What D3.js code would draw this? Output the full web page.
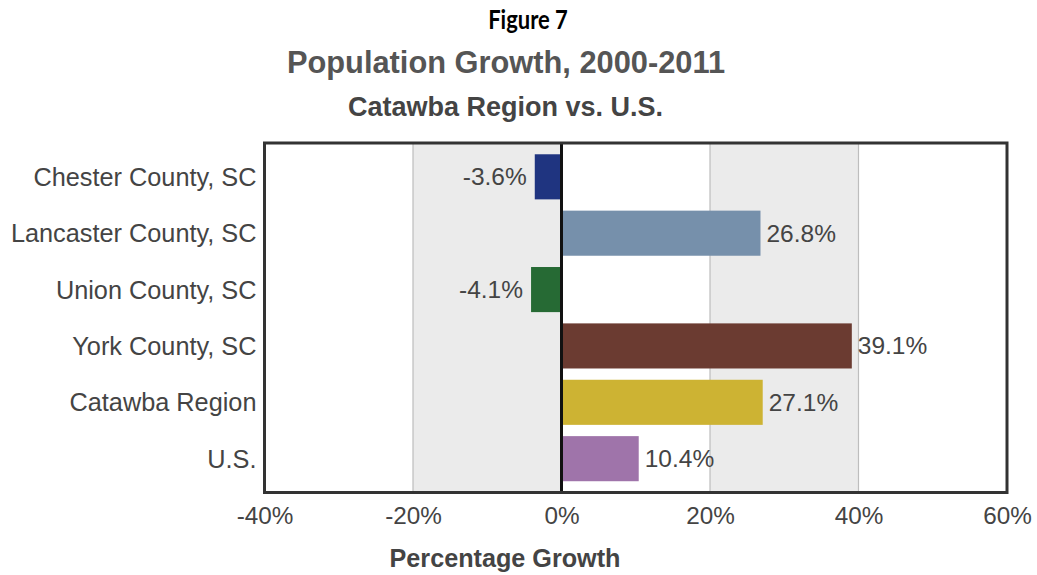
<!DOCTYPE html>
<html><head><meta charset="utf-8">
<script src="https://cdn.jsdelivr.net/npm/d3@7"></script>
<style>body{margin:0;background:#fff;} svg{display:block;}</style>
</head><body>
<svg id="c" width="1037" height="575"></svg>
<script>
const categories = ["Chester County, SC","Lancaster County, SC","Union County, SC","York County, SC","Catawba Region","U.S."];
const values = [-3.6, 26.8, -4.1, 39.1, 27.1, 10.4];
const barColors = ["#1f3480","#7690ab","#266a34","#6b3b31","#cdb333","#9f74aa"];
const tickValues = [-40,-20,0,20,40,60];
const shadedBands = [[-20,0],[20,40]];
const gridValues = [-20,20,40];

const svg = d3.select("#c");
const m = {left:264.5, right:1007, top:143, bottom:492.5};
const x = d3.scaleLinear().domain([-40,60]).range([m.left, m.right]);
const y = d3.scaleBand().domain(categories).range([m.top, m.bottom]).paddingInner(0.2).paddingOuter(0.2);
const font = "'Liberation Sans', Arial, Helvetica, sans-serif";

// plot background
svg.append("rect").attr("x",m.left).attr("y",m.top).attr("width",m.right-m.left).attr("height",m.bottom-m.top).attr("fill","#fff");
svg.selectAll("rect.band").data(shadedBands).join("rect").attr("class","band")
  .attr("x",d=>x(d[0])).attr("width",d=>x(d[1])-x(d[0]))
  .attr("y",m.top).attr("height",m.bottom-m.top).attr("fill","#ebebeb");
svg.selectAll("line.grid").data(gridValues).join("line").attr("class","grid")
  .attr("x1",d=>x(d)).attr("x2",d=>x(d)).attr("y1",m.top).attr("y2",m.bottom)
  .attr("stroke","#bdbdbd").attr("stroke-width",1.2);

// bars
svg.selectAll("rect.bar").data(values).join("rect").attr("class","bar")
  .attr("x",d=>x(Math.min(0,d))).attr("width",d=>Math.abs(x(d)-x(0)))
  .attr("y",(d,i)=>y(categories[i])).attr("height",y.bandwidth())
  .attr("fill",(d,i)=>barColors[i]);

// zero line
svg.append("line").attr("x1",x(0)).attr("x2",x(0)).attr("y1",m.top).attr("y2",m.bottom)
  .attr("stroke","#111").attr("stroke-width",3);

// frame
svg.append("rect").attr("x",m.left).attr("y",m.top).attr("width",m.right-m.left).attr("height",m.bottom-m.top)
  .attr("fill","none").attr("stroke","#333").attr("stroke-width",3);

// value labels
svg.selectAll("text.val").data(values).join("text").attr("class","val")
  .attr("x",d=> d<0 ? x(d)-8 : x(d)+6)
  .attr("y",(d,i)=>y(categories[i])+y.bandwidth()/2+8.5)
  .attr("text-anchor",d=> d<0 ? "end":"start")
  .attr("font-family",font).attr("font-size",24.5).attr("fill","#444")
  .text(d=>d.toFixed(1)+"%");

// y axis labels
const yAxis = d3.axisLeft(y).tickSize(0).tickPadding(8);
const ya = svg.append("g").attr("transform",`translate(${m.left},0)`).call(yAxis);
ya.select(".domain").remove();
ya.selectAll("text").attr("font-family",font).attr("font-size",25.3).attr("fill","#444").attr("dy","0.36em");

// x axis labels
const xAxis = d3.axisBottom(x).tickValues(tickValues).tickSize(0).tickPadding(14).tickFormat(d=>d+"%");
const xa = svg.append("g").attr("transform",`translate(0,${m.bottom})`).call(xAxis);
xa.select(".domain").remove();
xa.selectAll("text").attr("font-family",font).attr("font-size",24.3).attr("fill","#444");

// titles
svg.append("text").attr("transform","translate(528,29) scale(1,1.2)").attr("text-anchor","middle")
  .attr("font-family","Lato, 'Open Sans', sans-serif").attr("font-weight",700).attr("font-size",22).attr("fill","#000").text("Figure 7");
svg.append("text").attr("x",506).attr("y",73).attr("text-anchor","middle")
  .attr("font-family",font).attr("font-weight",700).attr("font-size",30.8).attr("fill","#555").text("Population Growth, 2000-2011");
svg.append("text").attr("x",505.5).attr("y",116).attr("text-anchor","middle")
  .attr("font-family",font).attr("font-weight",700).attr("font-size",27).attr("fill","#444").text("Catawba Region vs. U.S.");
svg.append("text").attr("x",505).attr("y",567).attr("text-anchor","middle")
  .attr("font-family",font).attr("font-weight",700).attr("font-size",25.2).attr("fill","#444").text("Percentage Growth");
</script>
</body></html>
